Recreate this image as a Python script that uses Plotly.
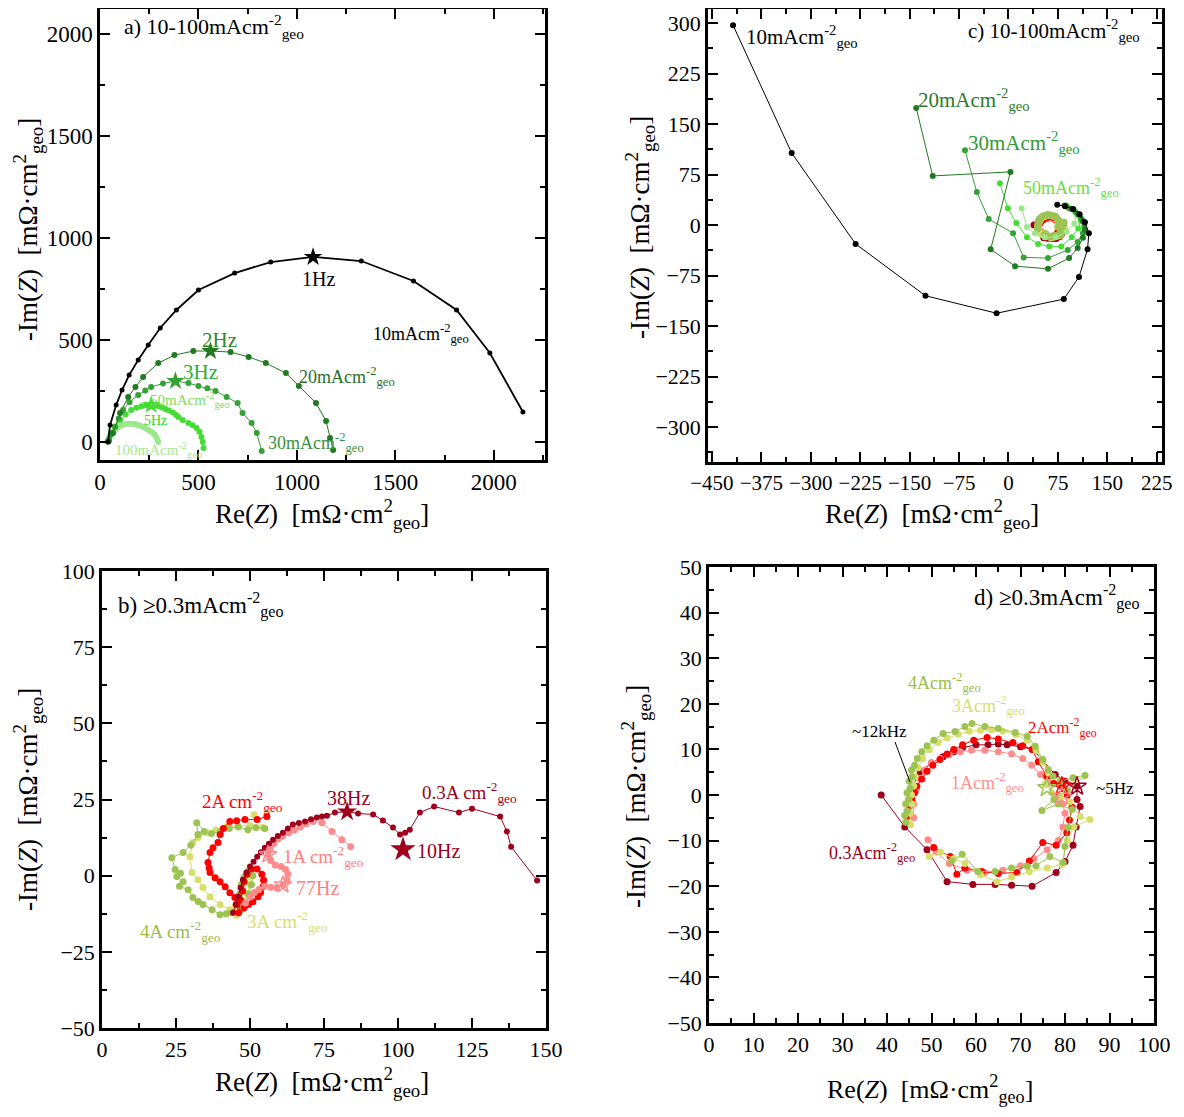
import plotly.graph_objects as go

FONT = "Liberation Serif"
OFF = 8                      # page body margin of the html page
W, H = 1184 - 2 * OFF, 1117 - 2 * OFF

# ---------------- panel a (10-100 mA) ----------------
a10_x = [41, 51, 82, 112, 148, 194, 245, 306, 388, 500, 684, 867, 1082, 1327, 1592, 1811, 1980, 2148]
a10_y = [0, 83, 181, 255, 328, 402, 475, 559, 647, 745, 828, 882, 907, 887, 789, 647, 436, 147]
a20_x = [45, 66, 102, 143, 180, 219, 296, 378, 474, 561, 663, 755, 842, 944, 1010, 1097, 1148, 1168, 1184]
a20_y = [5, 44, 142, 221, 270, 319, 387, 426, 446, 446, 441, 417, 387, 338, 275, 191, 103, 20, -39]
a30_x = [42, 60, 77, 95, 117, 150, 194, 230, 260, 320, 383, 449, 500, 545, 587, 643, 699, 724, 770, 796, 821]
a30_y = [5, 40, 74, 115, 157, 195, 230, 252, 270, 287, 299, 289, 275, 264, 250, 221, 191, 142, 93, 44, -44]
a50_x = [40, 48, 56, 75, 102, 130, 158, 185, 210, 235, 260, 280, 300, 316, 332, 350, 370, 385, 398, 420, 449, 470, 490, 505, 515, 522, 526]
a50_y = [3, 22, 44, 76, 108, 135, 157, 168, 175, 179, 181, 179, 175, 169, 162, 154, 145, 134, 123, 108, 93, 82, 69, 50, 25, 0, -29]
a100_x = [38, 44, 50, 62, 77, 90, 100, 114, 128, 142, 155, 167, 179, 192, 205, 218, 230, 240, 250, 260, 270, 278, 285, 291, 296]
a100_y = [0, 15, 30, 45, 59, 70, 78, 84, 88, 90, 90, 89, 88, 84, 80, 75, 69, 63, 57, 51, 44, 36, 25, 12, 0]
a_star_x = [1082, 561, 383, 260]
a_star_y = [907, 446, 299, 181]

# ---------------- panel c (10-100 mA, zoom) ----------------
c10_x = [-418, -329, -232, -126, -18, 84, 107, 120, 122, 116, 108, 98, 86, 74]
c10_y = [297, 107, -28, -105, -131, -110, -77, -36, -12, 4, 16, 24, 28, 30]
c20_x = [-140, -115, 3, -27, 10, 60, 92, 105, 113, 116, 113, 106, 96, 85]
c20_y = [174, 73, 79, -36, -61, -65, -49, -34, -19, -7, 6, 16, 24, 29]
c30_x = [-66, -48, -30, 7, 23, 60, 90, 105, 113, 115, 110, 102, 92]
c30_y = [111, 49, 9, -12, -48, -49, -37, -25, -12, -1, 10, 19, 25]
c50_x = [-13, -1, 12, 28, 45, 62, 80, 96, 106, 110, 106, 98, 88]
c50_y = [62, 25, 3, -18, -28, -32, -32, -18, -5, 6, 16, 24, 29]
c100_x = [20, 28, 40, 55, 72, 88, 100, 104, 100]
c100_y = [25, -3, -12, -18, -18, -10, 2, 14, 22]

# ---------------- panel b (>=0.3 A) ----------------
b03_x = [44.3, 45.2, 46.0, 46.8, 47.6, 48.8, 50.0, 51.2, 52.4, 53.7, 55.0, 56.4, 57.8, 59.4, 61.1, 62.8, 64.5, 66.5,
         68.6, 70.6, 72.6, 74.3, 76.0, 78.7, 82.8, 86.5, 91.6, 94.9, 98.3, 100.7, 102.4, 104.0, 107.4, 112.2, 120.6,
         125.0, 134.5, 136.8, 138.2, 147.0]
b03_y = [-12.2, -9.5, -6.9, -4.0, -1.3, 1.0, 3.0, 4.6, 6.2, 7.7, 9.2, 10.5, 11.8, 13.0, 14.1, 15.5, 16.8, 17.3,
         17.8, 18.5, 19.1, 19.4, 19.7, 20.7, 21.0, 20.4, 20.1, 18.1, 15.8, 13.5, 14.1, 15.1, 20.7, 22.7, 20.7,
         22.0, 19.4, 14.5, 9.5, -1.6]
b1_x = [48.5, 50, 51.5, 53, 55, 57, 59, 61.1, 62.5, 62.8, 62, 60.5, 58.5, 57, 56.1, 56.8, 58, 59.5, 61, 63, 65, 67,
        69, 71.3, 74.3, 77.7, 81, 84]
b1_y = [-9, -7, -5.5, -4.5, -3.5, -3.8, -4, -3, -1.5, 0.5, 2, 3, 3.5, 5, 6.9, 8.5, 10.5, 12, 13, 14, 15, 16,
        17, 17.8, 17.4, 14.5, 11.8, 9.5]
b2_x = [55.7, 52.4, 48.3, 45.5, 43.2, 41, 39.9, 39.2, 37.5, 36.5, 35.8, 36.2, 36.5, 38.2, 39.9, 41.6, 43.2, 44.9,
        45.6, 46.2, 46.8, 47.5, 48, 49, 50.5, 52.4, 54, 54.6, 54.4, 53.6, 52.7, 51, 49.5, 48]
b2_y = [19.4, 18.4, 18.4, 18, 17.8, 15.5, 13.5, 10.9, 9.2, 7.6, 4.3, 2.5, 1, -0.7, -2, -3.6, -5.6, -7.2,
        -9.5, -12.2, -8, -5, -2, 0.5, 2.2, 2.2, 0.5, -1.5, -3.6, -5.5, -6.9, -8.6, -9.5, -10.5]
b3_x = [51.4, 54.4, 50, 46, 42.2, 38.5, 35.5, 32.5, 30.7, 29.7, 30.4, 32.4, 34.1, 36.5, 39.9, 43.2, 45, 46.5, 47.5,
        48.5, 49.5, 50.5, 50, 49, 48, 47, 46, 45.5]
b3_y = [20, 15.8, 16.5, 16.2, 16.1, 15, 14.1, 12.5, 10.9, 6.2, 1, -1.3, -3.9, -6.9, -9.5, -11.2, -10, -7, -4,
        -1, 1.5, 0, -3, -6, -8.5, -10, -11.5, -13]
b4_x = [55, 52, 49.3, 46, 43, 40, 37, 34.5, 32, 32.4, 30, 27.4, 23.6, 24.7, 26.5, 25.3, 27.4, 26.2, 29.1, 30.7,
        32.5, 34.1, 37.2, 39.9, 42, 43.9, 45.5, 46.5, 47, 48, 49.5, 51, 50.5, 49.5, 48.5, 47.5]
b4_y = [15.5, 15.8, 15.1, 16, 15.5, 14.5, 13.8, 14.5, 17.4, 13.5, 10, 7.6, 5.9, 2, 0.8, -0.3, -2, -3.5, -4.6, -7.2,
        -8.5, -9.5, -11.2, -12.8, -12.5, -12.2, -9, -6, -3, -0.5, 1.5, 0, -3, -6, -9, -11]

# ---------------- panel d (>=0.3 A, zoom) ----------------
d03_x = [45.0, 47.4, 50, 52.6, 55, 57, 60, 62.7, 65, 67, 70, 72.8, 75, 77.8, 80, 82.7, 82.7, 83.4, 82.5, 81.8, 80,
         78, 72.6, 68, 64.3, 59.3, 53.5, 49, 44, 38.7]
d03_y = [0.5, 5.1, 7, 8.4, 9.5, 10.4, 11, 11, 11.2, 11, 10.6, 10, 7.5, 4.5, 3, 1.9, -1, -2.5, -7, -11, -14.6,
         -17, -20, -19.8, -19.6, -19.6, -19, -12, -7, 0]
d1_x = [46, 46, 46.5, 47.5, 48.5, 50, 52, 54, 56.5, 59, 62, 65, 68, 70.5, 72.5, 74.5, 76, 78, 79.5, 80, 79.5, 78.5,
        76, 73, 70, 66, 62, 58, 54, 51, 49.2]
d1_y = [-5, -2, 1, 3.5, 5.5, 7, 8, 8.8, 9.5, 9.8, 9.8, 9.5, 9, 8, 6.5, 4.5, 2.5, -0.3, -2, -4, -7, -10,
        -12, -14, -15.5, -16.5, -17, -16.5, -15, -12.5, -9.8]
d2_x = [44.5, 45, 45.6, 46.2, 46.7, 47.8, 49, 50.3, 51.9, 53.5, 55, 57, 59.5, 62.5, 65, 68.3, 70.5, 72.6, 74, 75.9,
        77.5, 79.3, 80.5, 81.6, 81, 80.4, 78, 75, 72, 69.2, 65, 61.3, 57.5, 55.7, 54.2, 50.5]
d2_y = [-4.7, -2.5, -1, 0.5, 1.9, 3.5, 5.2, 6.5, 7.8, 9, 10, 11, 12, 12.6, 12.3, 11.5, 10.8, 10, 7.3, 4.1,
        2.5, 1.9, 0, -2.7, -5.5, -8.3, -11, -10.4, -14.5, -17, -17.2, -16.8, -16, -17.4, -13.5, -11.5]
d3_x = [45.3, 45.2, 45.6, 45.5, 46, 46.3, 47, 48, 49.5, 51.5, 53.5, 56, 58.5, 61, 63.5, 66, 69, 71.5, 73.5, 75,
        76.3, 75.5, 77, 79, 81, 83.4, 85.6, 82, 80.5, 79.3, 76, 72, 68, 64.7, 61, 57.5, 55, 52, 49.5]
d3_y = [-6.5, -4, -2, 0, 2, 4, 6, 8, 10, 11.5, 12.5, 13.3, 14, 14.2, 14.3, 14, 13.2, 12, 9.8, 7.2,
        4.8, 2.3, 0.5, -0.5, -1.5, -4.7, -5.4, -7, -10, -15.2, -16, -16.8, -18, -19, -17.5, -15, -14, -12.5, -13.5]
d4_x = [44.2, 44.0, 44.5, 44.2, 44.8, 44.5, 45.2, 45.0, 45.6, 45.5, 46.2, 46.8, 47.8, 49.0, 50.5, 52.6, 55.3, 57.5,
        59.1, 62.0, 65.0, 68.8, 71.5, 73.3, 75.0, 76.2, 77.3, 79.0, 81.8, 84.5, 80.5, 77.5, 74.8, 78.5, 81.6, 80.7,
        80.0, 79.6, 76.6, 73.5, 71.5, 68.0, 64.3, 60.4, 56.9, 54.5]
d4_y = [-6.0, -4.5, -3.5, -2.0, -1.0, 0.5, 1.5, 3.0, 4.0, 5.5, 6.5, 8.0, 9.5, 10.8, 12.0, 13.5, 13.9, 15.0,
        15.7, 15.0, 14.6, 13.7, 12.9, 10.7, 7.8, 5.6, 4.1, 3.0, 3.8, 4.3, 1.0, -1.0, -3.4, -2.0, -3.2, -7.1,
        -11.3, -14.8, -13.5, -15.5, -15.6, -16.0, -16.8, -16.8, -13.0, -14.5]
d_star_x = [82.7, 79.3, 79.3, 75.9]
d_star_y = [1.9, 1.9, -0.3, 1.6]

# ---------------- colours ----------------
C10, C20, C30, C50, C100 = "#000000", "#207a20", "#34a234", "#44dd33", "#9de88c"
C03, C1, C2, C3, C4 = "#a0001c", "#ff8c8c", "#ff0000", "#d6df6a", "#9dc353"

fig = go.Figure()


def add(x, y, color, ax, size=6, width=1.0, mode="lines+markers", symbol="circle", lw=0):
    fig.add_trace(go.Scatter(
        x=x, y=y, mode=mode, xaxis="x" + ax, yaxis="y" + ax,
        line=dict(color=color, width=width),
        marker=dict(color=color, size=size, symbol=symbol, line=dict(width=lw, color=color)),
        showlegend=False, hoverinfo="skip"))


# panel a
add(a100_x, a100_y, C100, "", size=6)
add(a50_x, a50_y, C50, "", size=6)
add(a30_x, a30_y, C30, "", size=6)
add(a20_x, a20_y, C20, "", size=6)
add(a10_x, a10_y, C10, "", size=5, width=1.8)
for i, c in enumerate([C10, C20, C30, C50]):
    add([a_star_x[i]], [a_star_y[i]], c, "", size=14, mode="markers", symbol="star")

# panel c
for xs, ys, c in [(d03_x, d03_y, C03), (d1_x, d1_y, C1), (d2_x, d2_y, C2), (d3_x, d3_y, C3), (d4_x, d4_y, C4)]:
    add(xs, ys, c, "2", size=7, width=1)
add(c100_x, c100_y, C100, "2", size=6)
add(c50_x, c50_y, C50, "2", size=6)
add(c30_x, c30_y, C30, "2", size=6)
add(c20_x, c20_y, C20, "2", size=6)
add(c10_x, c10_y, C10, "2", size=6)

# panel b
add(b3_x, b3_y, C3, "3", size=7)
add(b4_x, b4_y, C4, "3", size=7)
add(b2_x, b2_y, C2, "3", size=7)
add(b1_x, b1_y, C1, "3", size=7)
add(b03_x, b03_y, C03, "3", size=6)
add([82.8], [21.0], C03, "3", size=15, mode="markers", symbol="star")
add([101.7], [8.6], C03, "3", size=19, mode="markers", symbol="star")
add([61.1, 56.1], [-3.0, 6.9], C1, "3", size=13, mode="markers", symbol="star-open", lw=1.5)

# panel d
for xs, ys, c in [(d03_x, d03_y, C03), (d1_x, d1_y, C1), (d2_x, d2_y, C2), (d3_x, d3_y, C3), (d4_x, d4_y, C4)]:
    add(xs, ys, c, "4", size=7, width=1)
for i, c in enumerate([C03, C2, C1, C4]):
    add([d_star_x[i]], [d_star_y[i]], c, "4", size=14, mode="markers", symbol="star-open", lw=1.5)


def P(px, py):
    """reference pixel -> paper coordinates (page is offset by the body margin)"""
    return (px - OFF) / W, 1 - (py - OFF) / H


def clip(v):
    return min(1.0, max(0.0, v))


def dom_x(p0, p1):
    return [clip(P(p0, 0)[0]), clip(P(p1, 0)[0])]


def dom_y(top, bot):
    return [clip(P(0, bot)[1]), clip(P(0, top)[1])]


def ax_common(dom, rng, dtick, minor, fs):
    return dict(domain=dom, range=rng, dtick=dtick, tick0=0, showline=True, linewidth=2.5, linecolor="black",
                mirror="allticks", ticks="inside", ticklen=10, tickwidth=2, tickcolor="black",
                minor=dict(ticks="inside", ticklen=5, tickwidth=2, dtick=minor, tickcolor="black"),
                showgrid=False, zeroline=False, automargin=False,
                tickfont=dict(family=FONT, size=fs, color="black"))


lay = dict(width=W, height=H, margin=dict(l=0, r=0, t=0, b=0, autoexpand=False),
           plot_bgcolor="white", paper_bgcolor="white", font=dict(family=FONT, color="black"))
lay["xaxis"] = ax_common(dom_x(100, 545), [0, 2260], 500, 250, 23)
lay["yaxis"] = ax_common(dom_y(9, 460), [-88, 2122], 500, 250, 23)
lay["xaxis"]["anchor"] = "y"
lay["yaxis"]["anchor"] = "x"
lay["xaxis2"] = ax_common(dom_x(708, 1162), [-456, 233], 75, 37.5, 21)
lay["yaxis2"] = ax_common(dom_y(9, 462), [-352, 321], 75, 37.5, 22)
lay["xaxis2"]["anchor"] = "y2"
lay["yaxis2"]["anchor"] = "x2"
lay["xaxis3"] = ax_common(dom_x(102, 546), [0, 150], 25, 12.5, 22)
lay["yaxis3"] = ax_common(dom_y(571, 1028), [-50, 100], 25, 12.5, 22)
lay["xaxis3"]["anchor"] = "y3"
lay["yaxis3"]["anchor"] = "x3"
lay["xaxis4"] = ax_common(dom_x(709, 1154), [0, 100], 10, 5, 22)
lay["yaxis4"] = ax_common(dom_y(567, 1023), [-50, 50], 10, 5, 22)
lay["xaxis4"]["anchor"] = "y4"
lay["yaxis4"]["anchor"] = "x4"

UNIT = "cm<sup>-2</sup><sub>geo</sub>"
labels = [
    # text, px, py, color, size, anchor
    ("a) 10-100mA" + UNIT, 122, 26, "black", 22, "left"),
    ("1Hz", 318, 279, "black", 20, "center"),
    ("10mA" + UNIT, 371, 333, "black", 18, "left"),
    ("2Hz", 219, 340, "#2a8a2a", 21, "center"),
    ("20mA" + UNIT, 297, 376, "#2b6e2b", 18, "left"),
    ("3Hz", 200, 372, "#2fb02f", 21, "center"),
    ("50mA" + UNIT, 148, 400, "#80dd60", 15, "left"),
    ("5Hz", 155, 420, "#22dd22", 14, "center"),
    ("100mA" + UNIT, 113, 450, "#a5e890", 15, "left"),
    ("30mA" + UNIT, 266, 443, "#3a913a", 18, "left"),
    ("10mA" + UNIT, 744, 36, "black", 21, "left"),
    ("c) 10-100mA" + UNIT, 1142, 31, "black", 21, "right"),
    ("20mA" + UNIT, 916, 99, "#2a7a2a", 21, "left"),
    ("30mA" + UNIT, 966, 142, "#329a32", 21, "left"),
    ("50mA" + UNIT, 1021, 188, "#70dd40", 18, "left"),
    ("b) \u22650.3mA" + UNIT, 116, 605, "black", 23, "left"),
    ("2A cm<sup>-2</sup><sub>geo</sub>", 200, 801, "#ff0000", 19, "left"),
    ("38Hz", 348, 798, "#9a0020", 20, "center"),
    ("0.3A cm<sup>-2</sup><sub>geo</sub>", 420, 792, "#9a0020", 19, "left"),
    ("1A cm<sup>-2</sup><sub>geo</sub>", 281, 856, "#ff8080", 19, "left"),
    ("10Hz", 415, 851, "#9a0020", 20, "left"),
    ("77Hz", 294, 888, "#ff8080", 20, "left"),
    ("4A cm<sup>-2</sup><sub>geo</sub>", 138, 931, "#9bbd4a", 19, "left"),
    ("3A cm<sup>-2</sup><sub>geo</sub>", 245, 921, "#d7df6a", 19, "left"),
    ("d) \u22650.3mA" + UNIT, 1142, 597, "black", 23, "right"),
    ("4A" + UNIT, 906, 682, "#9bbd4a", 18, "left"),
    ("3A" + UNIT, 950, 705, "#d7df6a", 18, "left"),
    ("2A" + UNIT, 1026, 727, "#ff0000", 17, "left"),
    ("~12kHz", 850, 731, "black", 17, "left"),
    ("1A" + UNIT, 949, 782, "#ff9090", 18, "left"),
    ("~5Hz", 1094, 788, "black", 17, "left"),
    ("0.3A" + UNIT, 827, 852, "#9a0020", 18, "left"),
]
ann = []
for t, px, py, c, s, anc in labels:
    x, y = P(px, py)
    ann.append(dict(text=t, x=x, y=y, xref="paper", yref="paper", xanchor=anc, yanchor="middle",
                    showarrow=False, font=dict(family=FONT, size=s, color=c)))

XT = "Re(<i>Z</i>)  [m\u03a9\u00b7cm<sup>2</sup><sub>geo</sub>]"
YT = "-Im(<i>Z</i>)  [m\u03a9\u00b7cm<sup>2</sup><sub>geo</sub>]"
for t, px, py, ang, fs in [(XT, 322, 514, 0, 27), (YT, 28, 230, -90, 27), (XT, 932, 514, 0, 27),
                           (YT, 640, 228, -90, 27), (XT, 322, 1082, 0, 27), (YT, 28, 800, -90, 27),
                           (XT, 930, 1089, 0, 26), (YT, 636, 797, -90, 27)]:
    x, y = P(px, py)
    ann.append(dict(text=t, x=x, y=y, xref="paper", yref="paper", xanchor="center", yanchor="middle",
                    showarrow=False, textangle=ang, font=dict(family=FONT, size=fs, color="black")))
lay["annotations"] = ann

x0, y0 = P(895, 742)
x1, y1 = P(910, 782)
lay["shapes"] = [dict(type="line", xref="paper", yref="paper", x0=x0, y0=y0, x1=x1, y1=y1,
                      line=dict(color="black", width=1))]

fig.update_layout(**lay)
fig.write_html("out.html")
